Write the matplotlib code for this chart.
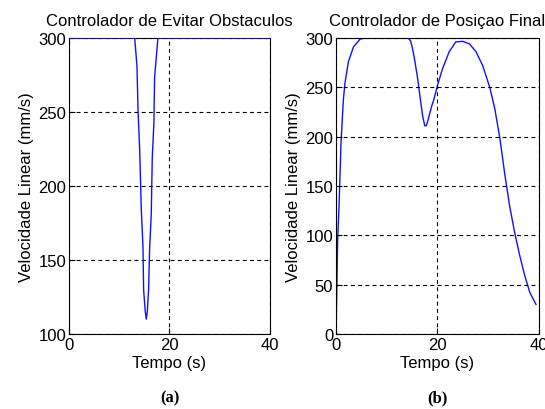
import matplotlib.pyplot as plt

# (a) obstacle-avoidance controller: linear speed dip
t_a = [0, 13.07, 13.53, 13.73, 14.06, 14.39, 14.72, 14.85, 15.18, 15.38,
       15.58, 15.84, 16.04, 16.37, 16.57, 16.90, 17.03, 17.69, 40]
v_a = [300, 300, 281, 252, 225, 184, 159, 130, 115, 110,
       115, 130, 157, 181, 219, 243, 273, 300, 300]

# (b) final-position controller
t_b = [0, 0.13, 0.33, 0.6, 0.99, 1.46, 1.79, 2.45, 3.44, 4.77, 6.0, 8.0,
       14.0, 14.4, 14.7, 15.0, 15.36, 16.0, 16.7, 17.1, 17.5, 17.8, 18.2,
       18.8, 19.3, 20.0, 21.0, 22.3, 23.6, 24.97, 26.3, 27.6, 28.9, 30.3,
       31.3, 32.3, 33.2, 34.2, 35.2, 36.2, 37.2, 38.2, 39.4]
v_b = [0, 35, 96, 130, 194, 238, 255, 276, 291, 299, 300, 300,
       300, 299, 297, 291, 282, 262, 235, 220, 211, 211, 218,
       230, 238, 252, 269, 286, 296, 296.6, 294, 286, 272, 250,
       228, 198, 164, 130, 103, 79.5, 59, 42, 30]

titles = ['Controlador de Evitar Obstaculos', 'Controlador de Posiçao Final']
tags = ['(a)', '(b)']

plt.rcParams['font.family'] = ['Liberation Sans', 'DejaVu Sans']
fig = plt.figure(figsize=(5.45, 4.1), dpi=100)
ax1 = fig.add_axes([0.1266, 0.1829, 0.3688, 0.722])
ax2 = fig.add_axes([0.6165, 0.1829, 0.3725, 0.722])

ax1.plot(t_a, v_a, color='#1010ff', linewidth=1, zorder=3)
ax1.set_ylim(100, 300)
ax1.set_yticks([100, 150, 200, 250, 300])

ax2.plot(t_b, v_b, color='#1010ff', linewidth=1, zorder=1.5)
ax2.set_ylim(0, 300)
ax2.set_yticks([0, 50, 100, 150, 200, 250, 300])

for ax, title, tag in zip([ax1, ax2], titles, tags):
    ax.set_xlim(0, 40)
    ax.set_xticks([0, 20, 40])
    ax.set_axisbelow(False)
    ax.grid(True, color='black', linestyle=(0, (3.5, 3)), linewidth=0.8)
    ax.tick_params(direction='in', labelsize=12, length=4, pad=2)
    ax.set_title(title, fontsize=12, pad=9)
    ax.set_xlabel('Tempo (s)', fontsize=12, labelpad=2)
    ax.set_ylabel('Velocidade Linear (mm/s)', fontsize=12, labelpad=3)
    ax.text(0.5, -0.213, tag, transform=ax.transAxes, ha='center', va='center',
            fontsize=12, fontweight='bold', family='Liberation Serif')

fig.savefig('out.png', dpi=100)
